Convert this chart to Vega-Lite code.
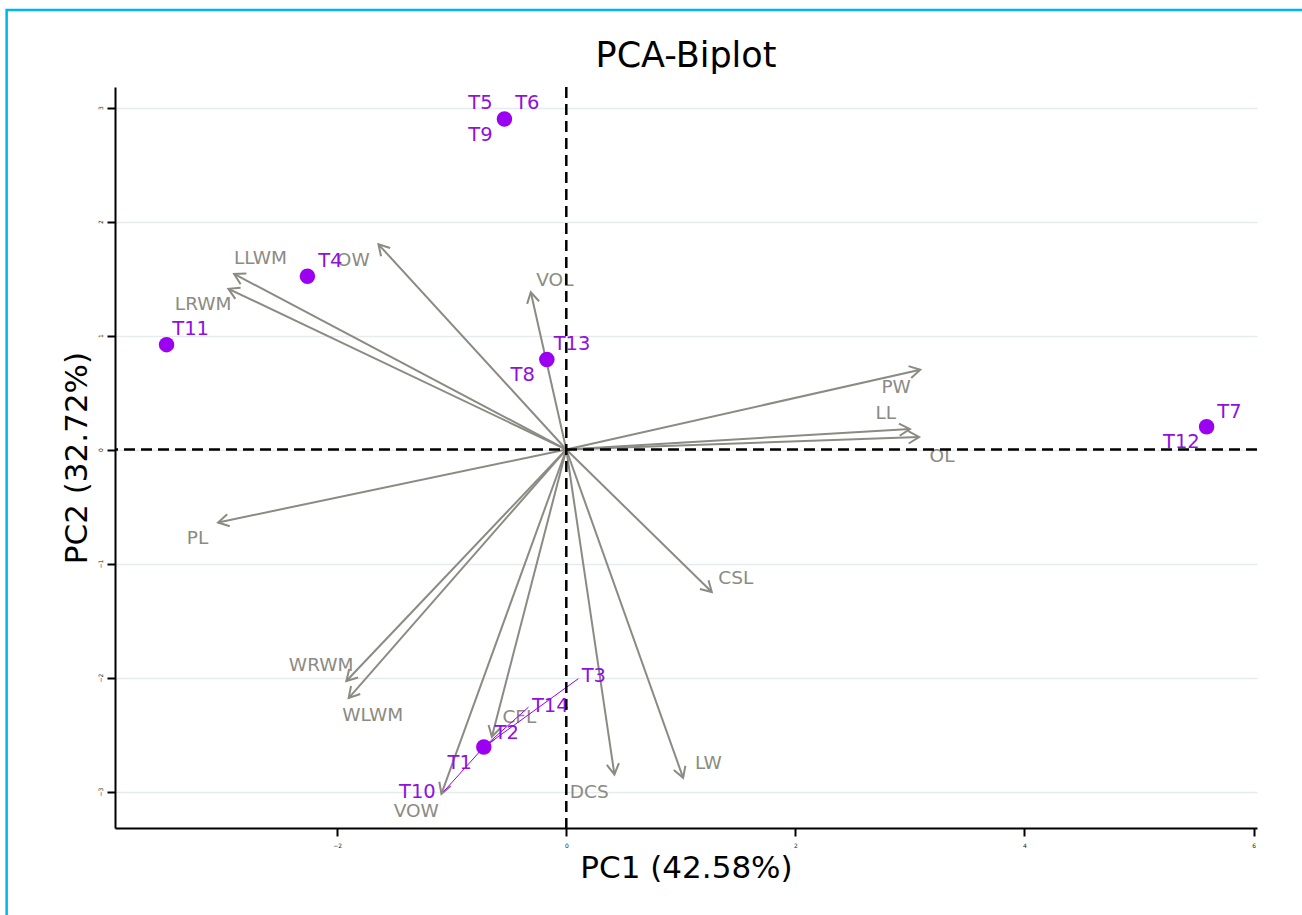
{
  "$schema": "https://vega.github.io/schema/vega-lite/v6.json",
  "autosize": {"type": "none"},
  "padding": {"left": 115, "top": 87, "right": 45, "bottom": 87},
  "width": 1142,
  "height": 741,
  "background": "white",
  "title": {"text": "PCA-Biplot", "fontSize": 35, "fontWeight": "normal", "font": "DejaVu Sans", "color": "black", "anchor": "middle", "frame": "group", "offset": -65},
  "datasets": {
    "arrows": [
      {"var": "OW", "x": -1.64, "y": 1.80, "lx": -1.86, "ly": 1.66},
      {"var": "LLWM", "x": -2.90, "y": 1.54, "lx": -2.67, "ly": 1.68},
      {"var": "LRWM", "x": -2.95, "y": 1.41, "lx": -3.17, "ly": 1.28},
      {"var": "VOL", "x": -0.31, "y": 1.38, "lx": -0.10, "ly": 1.49},
      {"var": "PW", "x": 3.09, "y": 0.70, "lx": 2.88, "ly": 0.55},
      {"var": "LL", "x": 3.00, "y": 0.18, "lx": 2.79, "ly": 0.32},
      {"var": "OL", "x": 3.08, "y": 0.11, "lx": 3.28, "ly": -0.06},
      {"var": "PL", "x": -3.04, "y": -0.64, "lx": -3.22, "ly": -0.78},
      {"var": "CSL", "x": 1.27, "y": -1.25, "lx": 1.48, "ly": -1.13},
      {"var": "WRWM", "x": -1.92, "y": -2.03, "lx": -2.14, "ly": -1.89},
      {"var": "WLWM", "x": -1.90, "y": -2.18, "lx": -1.69, "ly": -2.33},
      {"var": "CFL", "x": -0.65, "y": -2.52, "lx": -0.41, "ly": -2.35},
      {"var": "VOW", "x": -1.09, "y": -3.02, "lx": -1.31, "ly": -3.17},
      {"var": "DCS", "x": 0.42, "y": -2.85, "lx": 0.20, "ly": -3.00},
      {"var": "LW", "x": 1.02, "y": -2.88, "lx": 1.24, "ly": -2.75}
    ],
    "points": [
      {"x": -0.54, "y": 2.90},
      {"x": -2.26, "y": 1.52},
      {"x": -3.49, "y": 0.92},
      {"x": -0.17, "y": 0.79},
      {"x": 5.59, "y": 0.20},
      {"x": -0.72, "y": -2.61}
    ],
    "labels": [
      {"name": "T5", "px": -0.54, "py": 2.90, "lx": -0.75, "ly": 3.04},
      {"name": "T6", "px": -0.54, "py": 2.90, "lx": -0.34, "ly": 3.04},
      {"name": "T9", "px": -0.54, "py": 2.90, "lx": -0.75, "ly": 2.76},
      {"name": "T4", "px": -2.26, "py": 1.52, "lx": -2.06, "ly": 1.65},
      {"name": "T11", "px": -3.49, "py": 0.92, "lx": -3.28, "ly": 1.06},
      {"name": "T13", "px": -0.17, "py": 0.79, "lx": 0.05, "ly": 0.93},
      {"name": "T8", "px": -0.17, "py": 0.79, "lx": -0.38, "ly": 0.65},
      {"name": "T7", "px": 5.59, "py": 0.20, "lx": 5.79, "ly": 0.33},
      {"name": "T12", "px": 5.59, "py": 0.20, "lx": 5.37, "ly": 0.07},
      {"name": "T3", "px": -0.72, "py": -2.61, "lx": 0.24, "ly": -1.99, "sx": 0.105, "sy": -2.01},
      {"name": "T14", "px": -0.72, "py": -2.61, "lx": -0.14, "ly": -2.25, "sx": -0.33, "sy": -2.26},
      {"name": "T2", "px": -0.72, "py": -2.61, "lx": -0.52, "ly": -2.49, "sx": -0.62, "sy": -2.54},
      {"name": "T1", "px": -0.72, "py": -2.61, "lx": -0.93, "ly": -2.75},
      {"name": "T10", "px": -0.72, "py": -2.61, "lx": -1.30, "ly": -3.00, "sx": -1.07, "sy": -3.00}
    ]
  },
  "layer": [
    {
      "data": {"values": [{}]},
      "mark": {"type": "rect", "filled": false, "fill": null, "stroke": "#00B4F0", "strokeWidth": 2.5},
      "encoding": {
        "x": {"datum": -4.886, "type": "quantitative"},
        "x2": {"datum": 8, "type": "quantitative"},
        "y": {"datum": 3.855, "type": "quantitative"},
        "y2": {"datum": -6, "type": "quantitative"}
      }
    },
    {
      "data": {"name": "arrows"},
      "mark": {"type": "rule", "color": "#8B8B83", "strokeWidth": 2},
      "encoding": {
        "x": {"field": "x", "type": "quantitative", "scale": {"domain": [-3.94, 6.03], "nice": false, "zero": false}, "axis": {"values": [-2, 0, 2, 4, 6], "title": "PC1 (42.58%)", "grid": false, "format": "d"}},
        "y": {"field": "y", "type": "quantitative", "scale": {"domain": [-3.32, 3.18], "nice": false, "zero": false}, "axis": {"values": [-3, -2, -1, 0, 1, 2, 3], "title": "PC2 (32.72%)", "grid": true, "labelAngle": -90, "format": "d"}},
        "x2": {"datum": 0},
        "y2": {"datum": 0}
      }
    },
    {
      "data": {"name": "arrows"},
      "transform": [{"calculate": "atan2(datum.x, datum.y) * 180 / PI", "as": "ang"}],
      "mark": {"type": "point", "shape": "M-0.5,0.866L0,0L0.5,0.866", "filled": false, "stroke": "#8B8B83", "strokeWidth": 2, "size": 600, "opacity": 1},
      "encoding": {
        "x": {"field": "x", "type": "quantitative"},
        "y": {"field": "y", "type": "quantitative"},
        "angle": {"field": "ang", "type": "quantitative", "scale": null}
      }
    },
    {
      "data": {"name": "arrows"},
      "mark": {"type": "text", "color": "#8B8B83", "fontSize": 18.5, "font": "DejaVu Sans", "align": "center", "baseline": "middle"},
      "encoding": {
        "x": {"field": "lx", "type": "quantitative"},
        "y": {"field": "ly", "type": "quantitative"},
        "text": {"field": "var", "type": "nominal"}
      }
    },
    {
      "data": {"name": "points"},
      "mark": {"type": "circle", "color": "#9B00F0", "size": 240, "opacity": 1},
      "encoding": {
        "x": {"field": "x", "type": "quantitative"},
        "y": {"field": "y", "type": "quantitative"}
      }
    },
    {
      "data": {"name": "labels"},
      "transform": [{"filter": "isValid(datum.sx)"}],
      "mark": {"type": "rule", "color": "#9B00F0", "strokeWidth": 1},
      "encoding": {
        "x": {"field": "px", "type": "quantitative"},
        "y": {"field": "py", "type": "quantitative"},
        "x2": {"field": "sx"},
        "y2": {"field": "sy"}
      }
    },
    {
      "data": {"name": "labels"},
      "mark": {"type": "text", "color": "#9010E0", "fontSize": 19.5, "font": "DejaVu Sans", "align": "center", "baseline": "middle"},
      "encoding": {
        "x": {"field": "lx", "type": "quantitative"},
        "y": {"field": "ly", "type": "quantitative"},
        "text": {"field": "name", "type": "nominal"}
      }
    },
    {
      "data": {"values": [{}]},
      "mark": {"type": "rule", "color": "black", "strokeWidth": 2.5, "strokeDash": [11, 6]},
      "encoding": {"x": {"datum": 0, "type": "quantitative"}}
    },
    {
      "data": {"values": [{}]},
      "mark": {"type": "rule", "color": "black", "strokeWidth": 2.5, "strokeDash": [11, 6]},
      "encoding": {"y": {"datum": 0, "type": "quantitative"}}
    }
  ],
  "config": {
    "view": {"stroke": null},
    "font": "DejaVu Sans",
    "axis": {
      "domainColor": "black",
      "domainWidth": 2,
      "tickColor": "black",
      "tickWidth": 2,
      "tickSize": 8,
      "labelFontSize": 6,
      "labelColor": "#222222",
      "labelFont": "DejaVu Sans",
      "titleFont": "DejaVu Sans",
      "titleFontSize": 31,
      "titleFontWeight": "normal",
      "titleColor": "black",
      "gridColor": "#E4ECEE",
      "gridWidth": 1.5
    },
    "axisX": {"labelPadding": 6, "titlePadding": 5},
    "axisY": {"labelPadding": 4, "titlePadding": 4}
  }
}
